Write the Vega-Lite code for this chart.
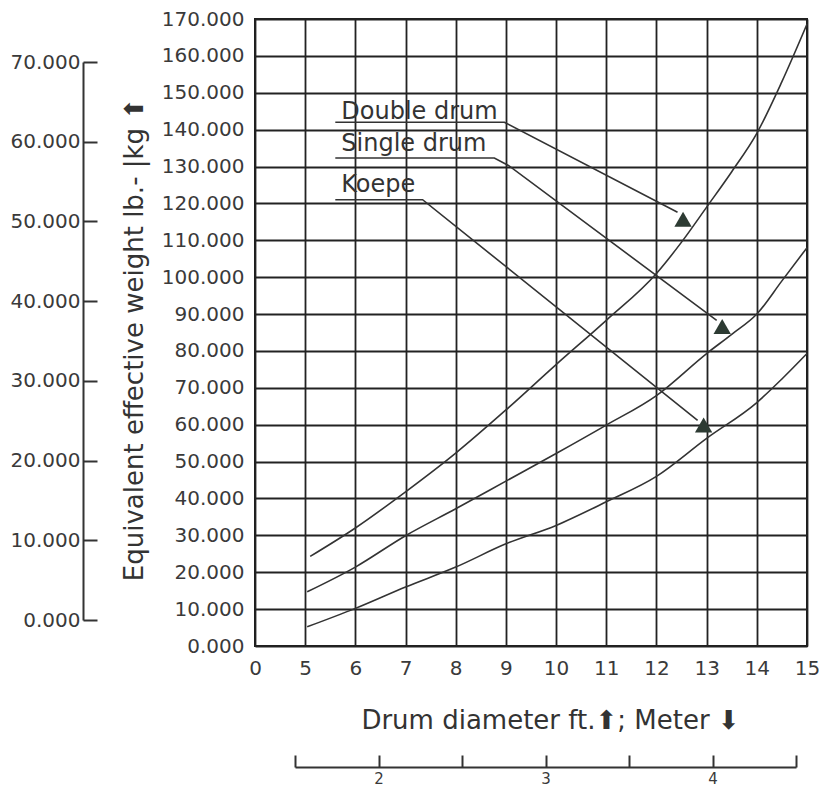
{
  "$schema": "https://vega.github.io/schema/vega-lite/v6.json",
  "width": 552,
  "height": 627,
  "autosize": {"type": "none"},
  "padding": {"left": 255, "top": 19, "right": 12, "bottom": 143},
  "background": "white",
  "config": {
    "font": "DejaVu Sans",
    "view": {"stroke": "#1e1e1e", "strokeWidth": 2}
  },
  "datasets": {
    "curves": [
      {"series": "Double drum", "x": 5.1, "y": 24300},
      {"series": "Double drum", "x": 6, "y": 32000},
      {"series": "Double drum", "x": 7, "y": 41800},
      {"series": "Double drum", "x": 8, "y": 52300},
      {"series": "Double drum", "x": 9, "y": 64000},
      {"series": "Double drum", "x": 10, "y": 76300},
      {"series": "Double drum", "x": 11, "y": 88300},
      {"series": "Double drum", "x": 12, "y": 101000},
      {"series": "Double drum", "x": 12.5, "y": 109500},
      {"series": "Double drum", "x": 13, "y": 119000},
      {"series": "Double drum", "x": 13.5, "y": 128600},
      {"series": "Double drum", "x": 14, "y": 139000},
      {"series": "Double drum", "x": 14.5, "y": 153000},
      {"series": "Double drum", "x": 15, "y": 168600},
      {"series": "Single drum", "x": 5.04, "y": 14700},
      {"series": "Single drum", "x": 6, "y": 21400},
      {"series": "Single drum", "x": 7, "y": 29900},
      {"series": "Single drum", "x": 8, "y": 37200},
      {"series": "Single drum", "x": 9, "y": 44700},
      {"series": "Single drum", "x": 10, "y": 52200},
      {"series": "Single drum", "x": 11, "y": 59900},
      {"series": "Single drum", "x": 12, "y": 67900},
      {"series": "Single drum", "x": 13, "y": 79300},
      {"series": "Single drum", "x": 13.5, "y": 84500},
      {"series": "Single drum", "x": 14, "y": 90000},
      {"series": "Single drum", "x": 14.5, "y": 99000},
      {"series": "Single drum", "x": 15, "y": 108000},
      {"series": "Koepe", "x": 5.04, "y": 5200},
      {"series": "Koepe", "x": 6, "y": 10200},
      {"series": "Koepe", "x": 7, "y": 16000},
      {"series": "Koepe", "x": 8, "y": 21400},
      {"series": "Koepe", "x": 9, "y": 27700},
      {"series": "Koepe", "x": 10, "y": 32700},
      {"series": "Koepe", "x": 11, "y": 39100},
      {"series": "Koepe", "x": 12, "y": 46000},
      {"series": "Koepe", "x": 13, "y": 56300},
      {"series": "Koepe", "x": 14, "y": 66000},
      {"series": "Koepe", "x": 14.5, "y": 72400},
      {"series": "Koepe", "x": 15, "y": 79300}
    ],
    "leaders": [
      {"lead": "Double drum", "i": 0, "x": 5.6, "y": 142000},
      {"lead": "Double drum", "i": 1, "x": 8.97, "y": 142000},
      {"lead": "Double drum", "i": 2, "x": 12.42, "y": 117600},
      {"lead": "Single drum", "i": 0, "x": 5.6, "y": 132300},
      {"lead": "Single drum", "i": 1, "x": 8.77, "y": 132300},
      {"lead": "Single drum", "i": 2, "x": 9.05, "y": 130300},
      {"lead": "Single drum", "i": 3, "x": 13.2, "y": 88300},
      {"lead": "Koepe", "i": 0, "x": 5.6, "y": 121000},
      {"lead": "Koepe", "i": 1, "x": 7.34, "y": 121000},
      {"lead": "Koepe", "i": 2, "x": 12.82, "y": 61200}
    ],
    "labels": [
      {"label": "Double drum", "x": 5.72, "y": 142900},
      {"label": "Single drum", "x": 5.72, "y": 134100},
      {"label": "Koepe", "x": 5.72, "y": 123100}
    ],
    "arrows": [
      {"label": "Double drum", "x": 12.53, "y": 115700},
      {"label": "Single drum", "x": 13.31, "y": 86600},
      {"label": "Koepe", "x": 12.94, "y": 59900}
    ],
    "kg": [
      {"kg": 0}, {"kg": 10000}, {"kg": 20000}, {"kg": 30000},
      {"kg": 40000}, {"kg": 50000}, {"kg": 60000}, {"kg": 70000}
    ],
    "meter": [
      {"m": 1.5}, {"m": 2}, {"m": 2.5}, {"m": 3}, {"m": 3.5}, {"m": 4}, {"m": 4.5}
    ]
  },
  "layer": [
    {
      "encoding": {
        "x": {
          "field": "x",
          "type": "quantitative",
          "scale": {"domain": [4, 15], "nice": false, "zero": false},
          "axis": {
            "values": [4, 5, 6, 7, 8, 9, 10, 11, 12, 13, 14, 15],
            "labelExpr": "datum.value == 4 ? '0' : format(datum.value, 'd')",
            "labelFlush": false,
            "labelOverlap": false,
            "labelFontSize": 20,
            "labelColor": "#3a3a3a",
            "labelPadding": 12,
            "ticks": false,
            "domain": false,
            "grid": true,
            "gridColor": "#222222",
            "gridWidth": 1.8,
            "title": "Drum diameter ft.⬆; Meter ⬇",
            "titleFontSize": 26,
            "titleFontWeight": "normal",
            "titleColor": "#333333",
            "titlePadding": 29,
            "titleX": 295
          }
        },
        "y": {
          "field": "y",
          "type": "quantitative",
          "scale": {"domain": [0, 170000], "nice": false, "zero": false},
          "axis": {
            "values": [0, 10000, 20000, 30000, 40000, 50000, 60000, 70000, 80000, 90000, 100000, 110000, 120000, 130000, 140000, 150000, 160000, 170000],
            "labelExpr": "format(datum.value / 1000, '.3f')",
            "labelFlush": false,
            "labelOverlap": false,
            "labelFontSize": 20,
            "labelColor": "#3a3a3a",
            "labelPadding": 11,
            "ticks": false,
            "domain": false,
            "grid": true,
            "gridColor": "#222222",
            "gridWidth": 1.8,
            "title": "Equivalent effective weight lb.- |kg ⬆",
            "titleFontSize": 26,
            "titleFontWeight": "normal",
            "titleColor": "#333333",
            "titlePadding": 14,
            "titleY": 320
          }
        }
      },
      "layer": [
        {
          "data": {"name": "curves"},
          "mark": {"type": "line", "interpolate": "monotone", "color": "#333333", "strokeWidth": 1.6},
          "encoding": {"detail": {"field": "series"}}
        },
        {
          "data": {"name": "leaders"},
          "mark": {"type": "line", "color": "#333333", "strokeWidth": 1.6},
          "encoding": {"detail": {"field": "lead"}, "order": {"field": "i", "type": "quantitative"}}
        },
        {
          "data": {"name": "labels"},
          "mark": {"type": "text", "align": "left", "baseline": "alphabetic", "fontSize": 24, "color": "#333333", "font": "DejaVu Sans"},
          "encoding": {"text": {"field": "label"}}
        },
        {
          "data": {"name": "arrows"},
          "mark": {"type": "point", "shape": "triangle-up", "filled": true, "size": 300, "color": "#2d3b33", "opacity": 1}
        }
      ]
    },
    {
      "data": {"name": "kg"},
      "mark": {"type": "rule", "opacity": 0},
      "encoding": {
        "y": {
          "field": "kg",
          "type": "quantitative",
          "scale": {"domain": [0, 70000], "range": [601, 43], "nice": false, "zero": false},
          "axis": {
            "orient": "left",
            "offset": 172,
            "values": [0, 10000, 20000, 30000, 40000, 50000, 60000, 70000],
            "labelExpr": "format(datum.value / 1000, '.3f')",
            "labelFlush": false,
            "labelOverlap": false,
            "labelFontSize": 20,
            "labelColor": "#3a3a3a",
            "labelPadding": 17,
            "ticks": true,
            "tickSize": -14,
            "tickWidth": 2,
            "tickColor": "#333333",
            "domain": true,
            "domainWidth": 2,
            "domainColor": "#333333",
            "grid": false,
            "title": null
          }
        }
      }
    },
    {
      "data": {"name": "meter"},
      "mark": {"type": "rule", "opacity": 0},
      "encoding": {
        "x": {
          "field": "m",
          "type": "quantitative",
          "scale": {"domain": [1.5, 4.5], "range": [40, 541], "nice": false, "zero": false},
          "axis": {
            "orient": "bottom",
            "offset": 121,
            "values": [1.5, 2, 2.5, 3, 3.5, 4, 4.5],
            "labelExpr": "datum.value % 1 == 0 ? format(datum.value, 'd') : ''",
            "labelFlush": false,
            "labelOverlap": false,
            "labelFontSize": 15,
            "labelColor": "#3a3a3a",
            "labelPadding": 16,
            "ticks": true,
            "tickSize": -12,
            "tickWidth": 2,
            "tickColor": "#333333",
            "domain": true,
            "domainWidth": 2,
            "domainColor": "#333333",
            "grid": false,
            "title": null
          }
        }
      }
    }
  ],
  "resolve": {"scale": {"x": "independent", "y": "independent"}}
}
